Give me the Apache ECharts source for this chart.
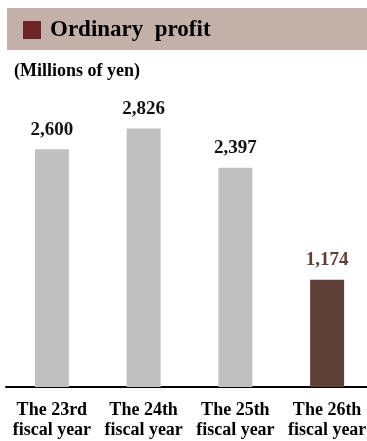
<!DOCTYPE html>
<html>
<head>
<meta charset="utf-8">
<script src="https://cdn.jsdelivr.net/npm/echarts@6/dist/echarts.min.js"></script>
<style>
html,body{margin:0;padding:0;background:#fff;overflow:hidden;width:367px;height:441px;}
#chart{width:373px;height:441px;}
</style>
</head>
<body>
<div id="chart"></div>
<script>
const categories = ['The 23rd\nfiscal year', 'The 24th\nfiscal year', 'The 25th\nfiscal year', 'The 26th\nfiscal year'];
const values = [2600, 2826, 2397, 1174];
const barColors = ['#c0c0c0', '#c0c0c0', '#c0c0c0', '#5e4039'];
const labelColors = ['#111111', '#111111', '#111111', '#5e4039'];
const titleText = 'Ordinary  profit';
const unitText = '(Millions of yen)';

const FONT = '"Liberation Serif", "Times New Roman", serif';
const chart = echarts.init(document.getElementById('chart'), null, {renderer: 'canvas'});
chart.setOption({
  animation: false,
  grid: {left: 6, right: 0, top: 67, bottom: 54, containLabel: false},
  xAxis: {
    type: 'category',
    data: categories,
    axisLine: {show: true, lineStyle: {color: '#000', width: 2}},
    axisTick: {show: false},
    axisLabel: {
      interval: 0,
      margin: 13,
      color: '#000',
      fontFamily: FONT,
      fontWeight: 'bold',
      fontSize: 18,
      lineHeight: 20
    }
  },
  yAxis: {
    type: 'value',
    min: 0,
    max: 3500,
    show: false,
    splitLine: {show: false}
  },
  series: [{
    type: 'bar',
    barWidth: 34,
    data: values.map((v, i) => ({
      value: v,
      itemStyle: {color: barColors[i]},
      label: {color: labelColors[i]}
    })),
    label: {
      show: true,
      position: 'top',
      distance: 10,
      fontFamily: FONT,
      fontWeight: 'bold',
      fontSize: 19,
      formatter: p => p.value.toLocaleString('en-US')
    }
  }],
  graphic: [
    {type: 'rect', left: 7, top: 8, shape: {width: 366, height: 42}, style: {fill: '#c3b0a8'}},
    {type: 'rect', left: 23, top: 21, shape: {width: 18, height: 18}, style: {fill: '#6b2527'}},
    {type: 'text', left: 50, top: 19, style: {text: titleText, fill: '#000', font: 'bold 23px ' + FONT}},
    {type: 'text', left: 14, top: 62, style: {text: unitText, fill: '#000', font: 'bold 18px ' + FONT}}
  ]
});
</script>
</body>
</html>
